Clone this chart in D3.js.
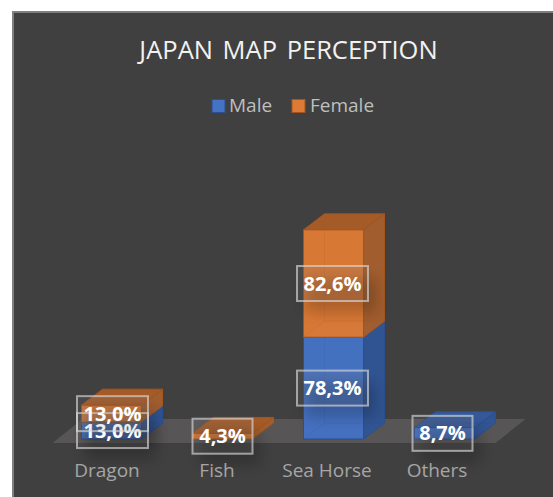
<!DOCTYPE html>
<html>
<head>
<meta charset="utf-8">
<script src="https://cdn.jsdelivr.net/npm/d3@7"></script>
<style>
    html, body { margin: 0; padding: 0; background: #fff; }
    svg { display: block; }
    text { font-family: "Open Sans", "Noto Sans", sans-serif; }
</style>
</head>
<body>
<div id="chart"></div>
<script>
(function () {
    'use strict';

    // chart data
    var categories = ['Dragon', 'Fish', 'Sea Horse', 'Others'];
    var seriesNames = ['Male', 'Female'];
    var maleValues = [13.0, 0, 78.3, 8.7];
    var femaleValues = [13.0, 4.3, 82.6, 0];

    // configuration
    var width = 553,
        height = 497,
        colors = {
            Male: { front: '#4472c4', side: '#2f5597', top: '#34599c', edge: '#2b4f8f' },
            Female: { front: '#dd7a35', side: '#a65f2c', top: '#a85c27', edge: '#a5541c' },
        },
        depthX = 21,
        depthY = -16,
        barWidth = 60;

    var x = d3.scalePoint().domain(categories).range([111.5, 444.5]);
    var y = d3.scaleLinear().domain([0, 100]).range([439, 309]);
    // axis labels and data labels run on a slightly tighter step than the bars
    var xLabel = d3.scalePoint().domain(categories).range([107, 437]);
    var xBox = d3.scalePoint().domain(categories).range([112.5, 442.5]);

    var svg = d3.select('#chart').append('svg')
        .attr('width', width)
        .attr('height', height);

    var defs = svg.append('defs');
    defs.append('filter').attr('id', 'soft')
        .attr('x', '-40%').attr('y', '-60%').attr('width', '180%').attr('height', '220%')
        .append('feGaussianBlur').attr('stdDeviation', 7);

    // panel
    svg.append('rect')
        .attr('x', 13).attr('y', 12)
        .attr('width', width).attr('height', height)
        .attr('fill', '#404040')
        .attr('stroke', '#7f7f7f')
        .attr('stroke-width', 2);

    // title and legend
    svg.append('text')
        .attr('x', 288.5).attr('y', 59)
        .attr('text-anchor', 'middle')
        .attr('font-size', 25.5)
        .attr('word-spacing', 3)
        .attr('fill', '#f2f2f2')
        .text('JAPAN MAP PERCEPTION');

    var legend = svg.append('g');
    [[212, 229], [292, 310]].forEach(function (p, i) {
        var name = seriesNames[i];
        legend.append('rect')
            .attr('x', p[0]).attr('y', 99.5)
            .attr('width', 13).attr('height', 13)
            .attr('fill', colors[name].front)
            .attr('stroke', colors[name].edge);
        legend.append('text')
            .attr('x', p[1]).attr('y', 112)
            .attr('font-size', 19)
            .attr('fill', '#bfbfbf')
            .text(name);
    });

    // floor
    var floorFront = y(0) + 4,
        floorBack = floorFront - 24,
        floorLeft = x(categories[0]) - 59,
        floorRight = x(categories[3]) + 51;
    svg.append('polygon')
        .attr('points', [
            [floorLeft, floorFront],
            [floorLeft + 30, floorBack],
            [floorRight + 30, floorBack],
            [floorRight, floorFront],
        ].join(' '))
        .attr('fill', '#575555');

    function pts(list) {
        return list.join(' ');
    }

    // one stacked block with its front, side and top faces
    function drawBlock(g, cx, v0, v1, name) {
        var c = colors[name],
            l = cx - barWidth / 2,
            r = cx + barWidth / 2,
            b = y(v0),
            t = y(v1);

        function face(points, fill, opacity) {
            g.append('polygon')
                .attr('points', pts(points))
                .attr('fill', fill)
                .attr('fill-opacity', opacity)
                .attr('stroke', c.edge)
                .attr('stroke-width', 1)
                .attr('stroke-linejoin', 'round');
        }

        face([[r, b], [r + depthX, b + depthY], [r + depthX, t + depthY], [r, t]], c.side, 0.95);
        face([[l, t], [l + depthX, t + depthY], [r + depthX, t + depthY], [r, t]], c.top, 0.97);
        face([[l, b], [r, b], [r, t], [l, t]], c.front, 0.97);

        // hidden back edges show faintly through the faces
        g.append('path')
            .attr('d', 'M' + (l + depthX) + ',' + (t + depthY) +
                'V' + (b + depthY) + 'L' + l + ',' + b +
                'M' + (l + depthX) + ',' + (b + depthY) + 'H' + (r + depthX))
            .attr('fill', 'none')
            .attr('stroke', c.edge)
            .attr('stroke-opacity', 0.14);
    }

    var bars = svg.append('g');
    categories.forEach(function (cat, i) {
        var cx = x(cat),
            m = maleValues[i],
            f = femaleValues[i],
            g = bars.append('g');
        if (m > 0) {
            drawBlock(g, cx, 0, m, 'Male');
        }
        if (f > 0) {
            drawBlock(g, cx, m, m + f, 'Female');
        }
    });

    // data labels sit at the middle of each block
    var labels = [];
    categories.forEach(function (cat, i) {
        var m = maleValues[i],
            f = femaleValues[i];
        if (m > 0) {
            labels.push({ cat: cat, base: 0, value: m });
        }
        if (f > 0) {
            labels.push({ cat: cat, base: m, value: f });
        }
    });

    function pct(v) {
        return v.toFixed(1).replace('.', ',') + '%';
    }

    function boxWidth(d) {
        return d.value < 10 ? 60 : 71;
    }

    var labelLayer = svg.append('g');

    // soft shadow falls below and right of each box
    labelLayer.selectAll('rect.shadow')
        .data(labels)
        .join('rect')
        .attr('class', 'shadow')
        .attr('x', function (d) { return xBox(d.cat) - boxWidth(d) / 2 + 8; })
        .attr('y', function (d) { return y(d.base + d.value / 2) - 17.5 + 12; })
        .attr('width', boxWidth)
        .attr('height', 35)
        .attr('fill', '#000')
        .attr('fill-opacity', 0.2)
        .attr('filter', 'url(#soft)');

    var label = labelLayer.selectAll('g')
        .data(labels)
        .join('g')
        .attr('transform', function (d) {
            return 'translate(' + xBox(d.cat) + ',' + y(d.base + d.value / 2) + ')';
        });

    label.append('rect')
        .attr('x', function (d) { return -boxWidth(d) / 2; })
        .attr('y', -17.5)
        .attr('width', boxWidth)
        .attr('height', 35)
        .attr('fill', '#7f7f7f')
        .attr('fill-opacity', 0.15)
        .attr('stroke', '#d9d9d9')
        .attr('stroke-opacity', 0.65)
        .attr('stroke-width', 2);

    label.append('text')
        .attr('text-anchor', 'middle')
        .attr('y', 7)
        .attr('font-size', 20)
        .attr('font-weight', 700)
        .attr('fill', '#ffffff')
        .text(function (d) { return pct(d.value); });

    // category labels
    svg.append('g').selectAll('text')
        .data(categories)
        .join('text')
        .attr('x', function (d) { return xLabel(d); })
        .attr('y', 477)
        .attr('text-anchor', 'middle')
        .attr('font-size', 19)
        .attr('fill', '#a6a6a6')
        .text(function (d) { return d; });
}());
</script>
</body>
</html>
